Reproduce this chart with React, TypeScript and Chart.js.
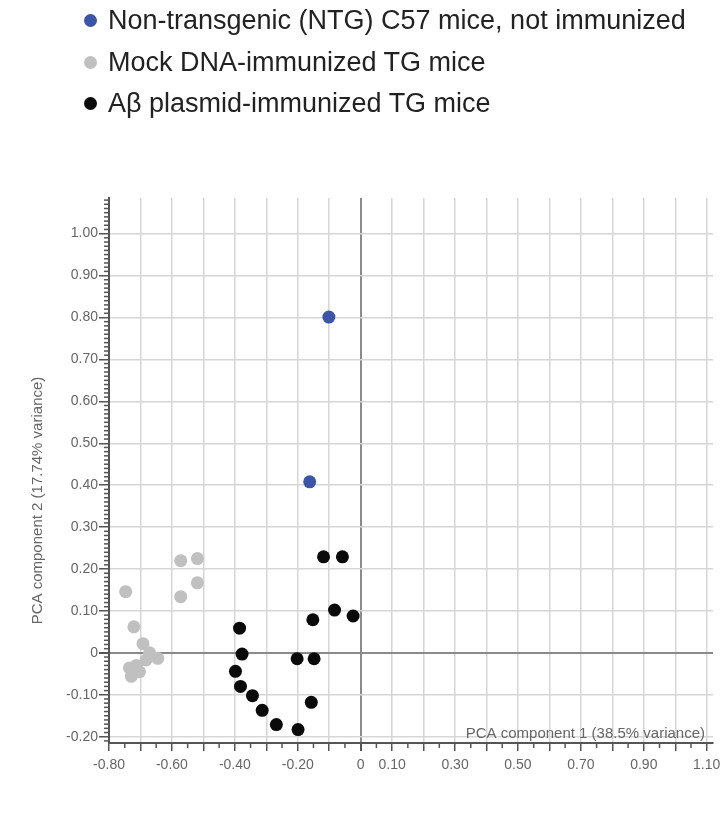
import React, { useEffect, useRef } from "react";
import { Chart, registerables } from "chart.js";

Chart.register(...registerables);

// ---- Data ----
const seriesNames = [
  "Non-transgenic (NTG) C57 mice, not immunized",
  "Mock DNA-immunized TG mice",
  "A\u03b2 plasmid-immunized TG mice",
];
const seriesColors = ["#3b55a8", "#c0c0c0", "#0a0a0a"];

const ntgX = [-0.101, -0.162];
const ntgY = [0.801, 0.408];

const mockX = [-0.747, -0.572, -0.519, -0.519, -0.572, -0.721, -0.692, -0.671, -0.645, -0.682, -0.713, -0.735, -0.729, -0.703];
const mockY = [0.146, 0.22, 0.225, 0.167, 0.134, 0.062, 0.022, 0.0, -0.013, -0.017, -0.03, -0.036, -0.056, -0.045];

const abX = [-0.118, -0.058, -0.083, -0.024, -0.152, -0.385, -0.377, -0.202, -0.148, -0.398, -0.382, -0.344, -0.313, -0.268, -0.199, -0.157];
const abY = [0.229, 0.229, 0.102, 0.088, 0.079, 0.059, -0.003, -0.014, -0.014, -0.044, -0.08, -0.102, -0.137, -0.171, -0.183, -0.118];

const xGridValues = [-0.8, -0.7, -0.6, -0.5, -0.4, -0.3, -0.2, -0.1, 0, 0.1, 0.2, 0.3, 0.4, 0.5, 0.6, 0.7, 0.8, 0.9, 1.0, 1.1];
const xLabeledValues = [-0.8, -0.6, -0.4, -0.2, 0, 0.1, 0.3, 0.5, 0.7, 0.9, 1.1];
const yTickValues = [-0.2, -0.1, 0, 0.1, 0.2, 0.3, 0.4, 0.5, 0.6, 0.7, 0.8, 0.9, 1.0];

const xTitle = "PCA component 1 (38.5% variance)";
const yTitle = "PCA component 2 (17.74% variance)";

const X_MIN = -0.8;
const X_MAX = 1.12;
const Y_MIN = -0.215;
const Y_MAX = 1.085;

const FONT = "'Liberation Sans', Arial, Helvetica, sans-serif";

const fmt = (v: number) => (Math.abs(v) < 1e-9 ? "0" : v.toFixed(2));
const near = (a: number, b: number) => Math.abs(a - b) < 1e-6;

const decorPlugin = {
  id: "decor",
  afterDraw(chart: any) {
    const { ctx, chartArea: a } = chart;
    const x = chart.scales.x;
    const y = chart.scales.y;
    ctx.save();
    ctx.strokeStyle = "#555";
    ctx.lineWidth = 1.5;
    // y minor ticks every 0.01
    const ys = Math.ceil(y.min * 100);
    const ye = Math.floor(y.max * 100);
    for (let i = ys; i <= ye; i++) {
      if (i % 10 === 0) continue;
      const py = y.getPixelForValue(i / 100);
      ctx.beginPath();
      ctx.moveTo(a.left - 5, py);
      ctx.lineTo(a.left, py);
      ctx.stroke();
    }
    // x minor ticks every 0.05
    const xs = Math.ceil(x.min * 20);
    const xe = Math.floor(x.max * 20);
    for (let i = xs; i <= xe; i++) {
      if (i % 2 === 0) continue;
      const px = x.getPixelForValue(i / 20);
      ctx.beginPath();
      ctx.moveTo(px, a.bottom);
      ctx.lineTo(px, a.bottom + 5);
      ctx.stroke();
    }
    // axis titles
    ctx.fillStyle = "#666";
    ctx.font = `15px ${FONT}`;
    ctx.textAlign = "right";
    ctx.textBaseline = "alphabetic";
    ctx.fillText(xTitle, a.right - 8, a.bottom - 5);
    ctx.translate(a.left - 71, (a.top + a.bottom) / 2 + 30);
    ctx.rotate(-Math.PI / 2);
    ctx.textAlign = "center";
    ctx.textBaseline = "middle";
    ctx.fillText(yTitle, 0, 0);
    ctx.restore();
  },
};

function toPoints(xs: number[], ys: number[]) {
  return xs.map((v, i) => ({ x: v, y: ys[i] }));
}

export default function App() {
  const canvasRef = useRef<HTMLCanvasElement | null>(null);

  useEffect(() => {
    if (!canvasRef.current) return;
    const gridColor = (ctx: any) =>
      ctx.tick && Math.abs(ctx.tick.value) < 1e-9 ? "#8a8a8a" : "#d6d6d6";
    const gridWidth = (ctx: any) =>
      ctx.tick && Math.abs(ctx.tick.value) < 1e-9 ? 2 : 1.5;
    const chart = new Chart(canvasRef.current, {
      type: "scatter",
      data: {
        datasets: [
          {
            label: seriesNames[2],
            data: toPoints(abX, abY),
            backgroundColor: seriesColors[2],
            pointRadius: 6.5,
            pointHoverRadius: 6.5,
            borderWidth: 0,
          },
          {
            label: seriesNames[1],
            data: toPoints(mockX, mockY),
            backgroundColor: seriesColors[1],
            pointRadius: 6.5,
            pointHoverRadius: 6.5,
            borderWidth: 0,
          },
          {
            label: seriesNames[0],
            data: toPoints(ntgX, ntgY),
            backgroundColor: seriesColors[0],
            pointRadius: 6.5,
            pointHoverRadius: 6.5,
            borderWidth: 0,
          },
        ],
      },
      options: {
        responsive: false,
        animation: false,
        devicePixelRatio: 1,
        layout: { padding: { top: 198, right: 10, bottom: 40, left: 0 } },
        plugins: {
          legend: { display: false },
          tooltip: { enabled: false },
        },
        scales: {
          x: {
            type: "linear",
            min: X_MIN,
            max: X_MAX,
            afterBuildTicks: (scale: any) => {
              scale.ticks = xGridValues.map((v) => ({ value: v }));
            },
            afterFit: (scale: any) => {
              scale.height = 40;
              scale.paddingLeft = 0;
              scale.paddingRight = 0;
            },
            ticks: {
              autoSkip: false,
              maxRotation: 0,
              minRotation: 0,
              padding: 6,
              color: "#666",
              font: { family: FONT, size: 14 },
              callback: (v: any) =>
                xLabeledValues.some((l) => near(l, Number(v))) ? fmt(Number(v)) : "",
            },
            grid: {
              color: gridColor,
              lineWidth: gridWidth,
              tickColor: "#555",
              tickLength: 8,
            },
            border: { display: true, color: "#555", width: 2 },
          },
          y: {
            type: "linear",
            min: Y_MIN,
            max: Y_MAX,
            afterBuildTicks: (scale: any) => {
              scale.ticks = yTickValues.map((v) => ({ value: v }));
            },
            afterFit: (scale: any) => {
              scale.width = 109;
            },
            ticks: {
              autoSkip: false,
              padding: 1,
              color: "#666",
              font: { family: FONT, size: 14 },
              callback: (v: any) => fmt(Number(v)),
            },
            grid: {
              color: gridColor,
              lineWidth: gridWidth,
              tickColor: "#555",
              tickLength: 10,
            },
            border: { display: true, color: "#555", width: 2 },
          },
        },
      },
      plugins: [decorPlugin],
    });
    return () => chart.destroy();
  }, []);

  const legendOrder = [0, 1, 2];

  return (
    <div style={{ position: "absolute", left: 0, top: 0, width: 723, height: 823, background: "#fff" }}>
      <canvas
        ref={canvasRef}
        width={723}
        height={823}
        style={{ position: "absolute", left: 0, top: 0, width: 723, height: 823 }}
      />
      <div style={{ position: "absolute", left: 84, top: 0, fontFamily: FONT }}>
        {legendOrder.map((i) => (
          <div
            key={i}
            style={{ display: "flex", alignItems: "center", height: 41.5 }}
          >
            <span
              style={{
                display: "inline-block",
                width: 13,
                height: 13,
                borderRadius: "50%",
                background: seriesColors[i],
                marginRight: 11,
              }}
            />
            <span style={{ fontSize: 27, color: "#222", whiteSpace: "nowrap" }}>{seriesNames[i]}</span>
          </div>
        ))}
      </div>
    </div>
  );
}
